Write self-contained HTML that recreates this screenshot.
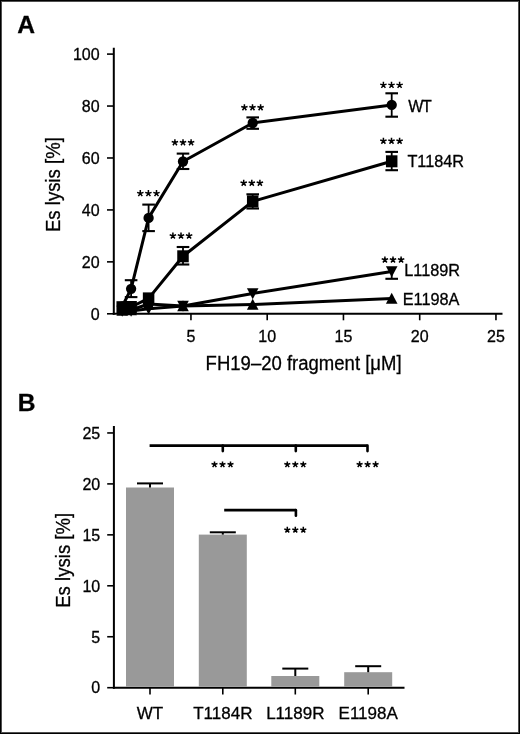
<!DOCTYPE html>
<html><head><meta charset="utf-8"><style>
html,body{margin:0;padding:0;background:#fff;}
.wrap{position:relative;width:520px;height:734px;box-sizing:border-box;border:1px solid #000;box-shadow:inset 0 0 0 1px #505050;overflow:hidden;}
svg{position:absolute;left:-1px;top:-1px;will-change:transform;}
text{font-family:"Liberation Sans", sans-serif;fill:#000;stroke:#000;stroke-width:0.3px;}
.t16{font-size:16px;}
.t16b{font-size:17px;}
.tl{font-size:16.3px;}
.t20{font-size:20px;}
.tb{font-size:24.6px;font-weight:bold;}
.st{font-size:15px;}
</style></head><body><div class="wrap">
<svg width="520" height="734" viewBox="0 0 520 734">
<line x1="113.8" y1="47.8" x2="113.8" y2="314.8" stroke="#000" stroke-width="2"/>
<line x1="112.8" y1="313.8" x2="502.5" y2="313.8" stroke="#000" stroke-width="2"/>
<line x1="107" y1="313.80" x2="113.8" y2="313.80" stroke="#000" stroke-width="1.6"/>
<text x="99.6" y="319.55" text-anchor="end" class="t16">0</text>
<line x1="107" y1="261.86" x2="113.8" y2="261.86" stroke="#000" stroke-width="1.6"/>
<text x="99.6" y="267.61" text-anchor="end" class="t16">20</text>
<line x1="107" y1="209.92" x2="113.8" y2="209.92" stroke="#000" stroke-width="1.6"/>
<text x="99.6" y="215.67" text-anchor="end" class="t16">40</text>
<line x1="107" y1="157.98" x2="113.8" y2="157.98" stroke="#000" stroke-width="1.6"/>
<text x="99.6" y="163.73" text-anchor="end" class="t16">60</text>
<line x1="107" y1="106.04" x2="113.8" y2="106.04" stroke="#000" stroke-width="1.6"/>
<text x="99.6" y="111.79" text-anchor="end" class="t16">80</text>
<line x1="107" y1="54.10" x2="113.8" y2="54.10" stroke="#000" stroke-width="1.6"/>
<text x="99.6" y="59.85" text-anchor="end" class="t16">100</text>
<line x1="190.95" y1="313.8" x2="190.95" y2="320.3" stroke="#000" stroke-width="1.6"/>
<text x="190.95" y="341.9" text-anchor="middle" class="t16">5</text>
<line x1="267.20" y1="313.8" x2="267.20" y2="320.3" stroke="#000" stroke-width="1.6"/>
<text x="267.20" y="341.9" text-anchor="middle" class="t16">10</text>
<line x1="343.45" y1="313.8" x2="343.45" y2="320.3" stroke="#000" stroke-width="1.6"/>
<text x="343.45" y="341.9" text-anchor="middle" class="t16">15</text>
<line x1="419.70" y1="313.8" x2="419.70" y2="320.3" stroke="#000" stroke-width="1.6"/>
<text x="419.70" y="341.9" text-anchor="middle" class="t16">20</text>
<line x1="495.95" y1="313.8" x2="495.95" y2="320.3" stroke="#000" stroke-width="1.6"/>
<text x="495.95" y="341.9" text-anchor="middle" class="t16">25</text>
<polyline points="122.2,310.5 131.1,310.0 148.6,304.0 183.0,306.0 252.7,304.5 391.7,298.5" fill="none" stroke="#000" stroke-width="3" stroke-linejoin="round"/>
<polyline points="122.2,311.0 131.1,311.0 148.6,308.8 183.0,306.0 252.7,293.5 391.7,271.5" fill="none" stroke="#000" stroke-width="3" stroke-linejoin="round"/>
<polyline points="122.2,307.2 131.1,307.0 148.6,298.4 183.0,256.3 252.7,201.4 391.7,161.3" fill="none" stroke="#000" stroke-width="3" stroke-linejoin="round"/>
<polyline points="122.2,306.5 131.1,288.8 148.6,217.9 183.0,161.5 252.7,123.0 391.7,104.9" fill="none" stroke="#000" stroke-width="3" stroke-linejoin="round"/>
<line x1="131.1" y1="280.2" x2="131.1" y2="297.1" stroke="#000" stroke-width="1.8"/>
<line x1="124.8" y1="280.2" x2="137.4" y2="280.2" stroke="#000" stroke-width="2.1"/>
<line x1="124.8" y1="297.1" x2="137.4" y2="297.1" stroke="#000" stroke-width="2.1"/>
<line x1="148.6" y1="204.6" x2="148.6" y2="231.1" stroke="#000" stroke-width="1.8"/>
<line x1="142.3" y1="204.6" x2="154.9" y2="204.6" stroke="#000" stroke-width="2.1"/>
<line x1="142.3" y1="231.1" x2="154.9" y2="231.1" stroke="#000" stroke-width="2.1"/>
<line x1="183.0" y1="153.6" x2="183.0" y2="169.0" stroke="#000" stroke-width="1.8"/>
<line x1="176.7" y1="153.6" x2="189.3" y2="153.6" stroke="#000" stroke-width="2.1"/>
<line x1="176.7" y1="169.0" x2="189.3" y2="169.0" stroke="#000" stroke-width="2.1"/>
<line x1="252.7" y1="117.4" x2="252.7" y2="128.8" stroke="#000" stroke-width="1.8"/>
<line x1="246.4" y1="117.4" x2="259.0" y2="117.4" stroke="#000" stroke-width="2.1"/>
<line x1="246.4" y1="128.8" x2="259.0" y2="128.8" stroke="#000" stroke-width="2.1"/>
<line x1="391.7" y1="93.3" x2="391.7" y2="116.7" stroke="#000" stroke-width="1.8"/>
<line x1="385.4" y1="93.3" x2="398.0" y2="93.3" stroke="#000" stroke-width="2.1"/>
<line x1="385.4" y1="116.7" x2="398.0" y2="116.7" stroke="#000" stroke-width="2.1"/>
<line x1="183.0" y1="247.0" x2="183.0" y2="264.5" stroke="#000" stroke-width="1.8"/>
<line x1="176.7" y1="247.0" x2="189.3" y2="247.0" stroke="#000" stroke-width="2.1"/>
<line x1="176.7" y1="264.5" x2="189.3" y2="264.5" stroke="#000" stroke-width="2.1"/>
<line x1="252.7" y1="194.3" x2="252.7" y2="208.5" stroke="#000" stroke-width="1.8"/>
<line x1="246.4" y1="194.3" x2="259.0" y2="194.3" stroke="#000" stroke-width="2.1"/>
<line x1="246.4" y1="208.5" x2="259.0" y2="208.5" stroke="#000" stroke-width="2.1"/>
<line x1="391.7" y1="151.9" x2="391.7" y2="170.2" stroke="#000" stroke-width="1.8"/>
<line x1="385.4" y1="151.9" x2="398.0" y2="151.9" stroke="#000" stroke-width="2.1"/>
<line x1="385.4" y1="170.2" x2="398.0" y2="170.2" stroke="#000" stroke-width="2.1"/>
<line x1="391.7" y1="270.8" x2="391.7" y2="278.8" stroke="#000" stroke-width="1.8"/>
<line x1="385.4" y1="278.8" x2="398.0" y2="278.8" stroke="#000" stroke-width="2.1"/>
<polygon points="116.4,315.7 128.0,315.7 122.2,304.7"/>
<polygon points="125.3,315.2 136.9,315.2 131.1,304.2"/>
<polygon points="142.8,309.2 154.4,309.2 148.6,298.2"/>
<polygon points="177.2,311.2 188.8,311.2 183.0,300.2"/>
<polygon points="246.9,309.7 258.5,309.7 252.7,298.7"/>
<polygon points="385.9,303.7 397.5,303.7 391.7,292.7"/>
<polygon points="116.4,305.8 128.0,305.8 122.2,316.8"/>
<polygon points="125.3,305.8 136.9,305.8 131.1,316.8"/>
<polygon points="142.8,303.6 154.4,303.6 148.6,314.6"/>
<polygon points="177.2,300.8 188.8,300.8 183.0,311.8"/>
<polygon points="246.9,288.3 258.5,288.3 252.7,299.3"/>
<polygon points="385.9,266.3 397.5,266.3 391.7,277.3"/>
<rect x="116.45" y="301.20" width="11.5" height="12"/>
<rect x="125.35" y="301.00" width="11.5" height="12"/>
<rect x="142.85" y="292.40" width="11.5" height="12"/>
<rect x="177.25" y="250.30" width="11.5" height="12"/>
<rect x="246.95" y="195.40" width="11.5" height="12"/>
<rect x="385.95" y="155.30" width="11.5" height="12"/>
<circle cx="122.2" cy="306.5" r="5.15"/>
<circle cx="131.1" cy="288.8" r="5.15"/>
<circle cx="148.6" cy="217.9" r="5.15"/>
<circle cx="183.0" cy="161.5" r="5.15"/>
<circle cx="252.7" cy="123.0" r="5.15"/>
<circle cx="391.7" cy="104.9" r="5.15"/>
<path d="M383.40,85.15L383.40,81.80M383.40,85.15L386.59,84.11M383.40,85.15L385.37,87.86M383.40,85.15L381.43,87.86M383.40,85.15L380.21,84.11M391.50,85.15L391.50,81.80M391.50,85.15L394.69,84.11M391.50,85.15L393.47,87.86M391.50,85.15L389.53,87.86M391.50,85.15L388.31,84.11M399.60,85.15L399.60,81.80M399.60,85.15L402.79,84.11M399.60,85.15L401.57,87.86M399.60,85.15L397.63,87.86M399.60,85.15L396.41,84.11" stroke="#000" stroke-width="1.5" fill="none"/>
<path d="M383.40,141.05L383.40,137.70M383.40,141.05L386.59,140.01M383.40,141.05L385.37,143.76M383.40,141.05L381.43,143.76M383.40,141.05L380.21,140.01M391.50,141.05L391.50,137.70M391.50,141.05L394.69,140.01M391.50,141.05L393.47,143.76M391.50,141.05L389.53,143.76M391.50,141.05L388.31,140.01M399.60,141.05L399.60,137.70M399.60,141.05L402.79,140.01M399.60,141.05L401.57,143.76M399.60,141.05L397.63,143.76M399.60,141.05L396.41,140.01" stroke="#000" stroke-width="1.5" fill="none"/>
<path d="M384.90,259.75L384.90,256.40M384.90,259.75L388.09,258.71M384.90,259.75L386.87,262.46M384.90,259.75L382.93,262.46M384.90,259.75L381.71,258.71M393.00,259.75L393.00,256.40M393.00,259.75L396.19,258.71M393.00,259.75L394.97,262.46M393.00,259.75L391.03,262.46M393.00,259.75L389.81,258.71M401.10,259.75L401.10,256.40M401.10,259.75L404.29,258.71M401.10,259.75L403.07,262.46M401.10,259.75L399.13,262.46M401.10,259.75L397.91,258.71" stroke="#000" stroke-width="1.5" fill="none"/>
<path d="M244.40,107.55L244.40,104.20M244.40,107.55L247.59,106.51M244.40,107.55L246.37,110.26M244.40,107.55L242.43,110.26M244.40,107.55L241.21,106.51M252.50,107.55L252.50,104.20M252.50,107.55L255.69,106.51M252.50,107.55L254.47,110.26M252.50,107.55L250.53,110.26M252.50,107.55L249.31,106.51M260.60,107.55L260.60,104.20M260.60,107.55L263.79,106.51M260.60,107.55L262.57,110.26M260.60,107.55L258.63,110.26M260.60,107.55L257.41,106.51" stroke="#000" stroke-width="1.5" fill="none"/>
<path d="M243.70,183.05L243.70,179.70M243.70,183.05L246.89,182.01M243.70,183.05L245.67,185.76M243.70,183.05L241.73,185.76M243.70,183.05L240.51,182.01M251.80,183.05L251.80,179.70M251.80,183.05L254.99,182.01M251.80,183.05L253.77,185.76M251.80,183.05L249.83,185.76M251.80,183.05L248.61,182.01M259.90,183.05L259.90,179.70M259.90,183.05L263.09,182.01M259.90,183.05L261.87,185.76M259.90,183.05L257.93,185.76M259.90,183.05L256.71,182.01" stroke="#000" stroke-width="1.5" fill="none"/>
<path d="M174.90,142.55L174.90,139.20M174.90,142.55L178.09,141.51M174.90,142.55L176.87,145.26M174.90,142.55L172.93,145.26M174.90,142.55L171.71,141.51M183.00,142.55L183.00,139.20M183.00,142.55L186.19,141.51M183.00,142.55L184.97,145.26M183.00,142.55L181.03,145.26M183.00,142.55L179.81,141.51M191.10,142.55L191.10,139.20M191.10,142.55L194.29,141.51M191.10,142.55L193.07,145.26M191.10,142.55L189.13,145.26M191.10,142.55L187.91,141.51" stroke="#000" stroke-width="1.5" fill="none"/>
<path d="M140.30,193.45L140.30,190.10M140.30,193.45L143.49,192.41M140.30,193.45L142.27,196.16M140.30,193.45L138.33,196.16M140.30,193.45L137.11,192.41M148.40,193.45L148.40,190.10M148.40,193.45L151.59,192.41M148.40,193.45L150.37,196.16M148.40,193.45L146.43,196.16M148.40,193.45L145.21,192.41M156.50,193.45L156.50,190.10M156.50,193.45L159.69,192.41M156.50,193.45L158.47,196.16M156.50,193.45L154.53,196.16M156.50,193.45L153.31,192.41" stroke="#000" stroke-width="1.5" fill="none"/>
<path d="M172.90,235.85L172.90,232.50M172.90,235.85L176.09,234.81M172.90,235.85L174.87,238.56M172.90,235.85L170.93,238.56M172.90,235.85L169.71,234.81M181.00,235.85L181.00,232.50M181.00,235.85L184.19,234.81M181.00,235.85L182.97,238.56M181.00,235.85L179.03,238.56M181.00,235.85L177.81,234.81M189.10,235.85L189.10,232.50M189.10,235.85L192.29,234.81M189.10,235.85L191.07,238.56M189.10,235.85L187.13,238.56M189.10,235.85L185.91,234.81" stroke="#000" stroke-width="1.5" fill="none"/>
<text x="408.2" y="111.6" class="t16" textLength="23.6">WT</text>
<text x="407.4" y="166.5" class="tl">T1184R</text>
<text x="404.3" y="276.2" class="tl">L1189R</text>
<text x="402.7" y="304.9" class="tl">E1198A</text>
<text x="205.6" y="369.9" class="t20" textLength="196" lengthAdjust="spacingAndGlyphs">FH19–20 fragment [μM]</text>
<text transform="translate(60.3,232.1) rotate(-90)" x="0" y="0" class="t20" textLength="95" lengthAdjust="spacingAndGlyphs">Es lysis [%]</text>
<text x="17.3" y="32.8" class="tb">A</text>
<line x1="113.9" y1="426" x2="113.9" y2="688.7" stroke="#000" stroke-width="2"/>
<line x1="112.9" y1="687.7" x2="404.5" y2="687.7" stroke="#000" stroke-width="2"/>
<line x1="107.2" y1="687.70" x2="113.9" y2="687.70" stroke="#000" stroke-width="1.6"/>
<text x="100.2" y="693.45" text-anchor="end" class="t16">0</text>
<line x1="107.2" y1="636.75" x2="113.9" y2="636.75" stroke="#000" stroke-width="1.6"/>
<text x="100.2" y="642.50" text-anchor="end" class="t16">5</text>
<line x1="107.2" y1="585.80" x2="113.9" y2="585.80" stroke="#000" stroke-width="1.6"/>
<text x="100.2" y="591.55" text-anchor="end" class="t16">10</text>
<line x1="107.2" y1="534.85" x2="113.9" y2="534.85" stroke="#000" stroke-width="1.6"/>
<text x="100.2" y="540.60" text-anchor="end" class="t16">15</text>
<line x1="107.2" y1="483.90" x2="113.9" y2="483.90" stroke="#000" stroke-width="1.6"/>
<text x="100.2" y="489.65" text-anchor="end" class="t16">20</text>
<line x1="107.2" y1="432.95" x2="113.9" y2="432.95" stroke="#000" stroke-width="1.6"/>
<text x="100.2" y="438.70" text-anchor="end" class="t16">25</text>
<rect x="126.0" y="487.5" width="48" height="199.2" fill="#999999"/>
<line x1="150.0" y1="483.4" x2="150.0" y2="487.5" stroke="#000" stroke-width="2"/>
<line x1="137.0" y1="483.4" x2="163.0" y2="483.4" stroke="#000" stroke-width="2"/>
<line x1="150.0" y1="687.7" x2="150.0" y2="694.5" stroke="#000" stroke-width="1.6"/>
<text x="150.0" y="719.3" text-anchor="middle" class="t16b">WT</text>
<rect x="198.8" y="534.6" width="48" height="152.1" fill="#999999"/>
<line x1="222.8" y1="532.3" x2="222.8" y2="534.6" stroke="#000" stroke-width="2"/>
<line x1="209.8" y1="532.3" x2="235.8" y2="532.3" stroke="#000" stroke-width="2"/>
<line x1="222.8" y1="687.7" x2="222.8" y2="694.5" stroke="#000" stroke-width="1.6"/>
<text x="222.8" y="719.3" text-anchor="middle" class="t16b">T1184R</text>
<rect x="271.3" y="676.0" width="48" height="10.7" fill="#999999"/>
<line x1="295.3" y1="668.6" x2="295.3" y2="676.0" stroke="#000" stroke-width="2"/>
<line x1="282.3" y1="668.6" x2="308.3" y2="668.6" stroke="#000" stroke-width="2"/>
<line x1="295.3" y1="687.7" x2="295.3" y2="694.5" stroke="#000" stroke-width="1.6"/>
<text x="295.3" y="719.3" text-anchor="middle" class="t16b">L1189R</text>
<rect x="344.2" y="672.2" width="48" height="14.5" fill="#999999"/>
<line x1="368.2" y1="666.2" x2="368.2" y2="672.2" stroke="#000" stroke-width="2"/>
<line x1="355.2" y1="666.2" x2="381.2" y2="666.2" stroke="#000" stroke-width="2"/>
<line x1="368.2" y1="687.7" x2="368.2" y2="694.5" stroke="#000" stroke-width="1.6"/>
<text x="368.2" y="719.3" text-anchor="middle" class="t16b">E1198A</text>
<line x1="149.6" y1="445.65" x2="367.5" y2="445.65" stroke="#000" stroke-width="2.7"/>
<line x1="222.8" y1="445.65" x2="222.8" y2="451.1" stroke="#000" stroke-width="2.6" stroke-linecap="round"/>
<line x1="295.8" y1="445.65" x2="295.8" y2="451.1" stroke="#000" stroke-width="2.6" stroke-linecap="round"/>
<line x1="367.5" y1="445.65" x2="367.5" y2="451.1" stroke="#000" stroke-width="2.6" stroke-linecap="round"/>
<line x1="224.2" y1="510.15" x2="295.9" y2="510.15" stroke="#000" stroke-width="2.8"/>
<line x1="295.9" y1="510.15" x2="295.9" y2="515.8" stroke="#000" stroke-width="2.6" stroke-linecap="round"/>
<path d="M214.50,464.55L214.50,461.40M214.50,464.55L217.50,463.58M214.50,464.55L216.35,467.10M214.50,464.55L212.65,467.10M214.50,464.55L211.50,463.58M222.50,464.55L222.50,461.40M222.50,464.55L225.50,463.58M222.50,464.55L224.35,467.10M222.50,464.55L220.65,467.10M222.50,464.55L219.50,463.58M230.50,464.55L230.50,461.40M230.50,464.55L233.50,463.58M230.50,464.55L232.35,467.10M230.50,464.55L228.65,467.10M230.50,464.55L227.50,463.58" stroke="#000" stroke-width="1.5" fill="none"/>
<path d="M287.30,464.55L287.30,461.40M287.30,464.55L290.30,463.58M287.30,464.55L289.15,467.10M287.30,464.55L285.45,467.10M287.30,464.55L284.30,463.58M295.30,464.55L295.30,461.40M295.30,464.55L298.30,463.58M295.30,464.55L297.15,467.10M295.30,464.55L293.45,467.10M295.30,464.55L292.30,463.58M303.30,464.55L303.30,461.40M303.30,464.55L306.30,463.58M303.30,464.55L305.15,467.10M303.30,464.55L301.45,467.10M303.30,464.55L300.30,463.58" stroke="#000" stroke-width="1.5" fill="none"/>
<path d="M359.60,464.45L359.60,461.30M359.60,464.45L362.60,463.48M359.60,464.45L361.45,467.00M359.60,464.45L357.75,467.00M359.60,464.45L356.60,463.48M367.60,464.45L367.60,461.30M367.60,464.45L370.60,463.48M367.60,464.45L369.45,467.00M367.60,464.45L365.75,467.00M367.60,464.45L364.60,463.48M375.60,464.45L375.60,461.30M375.60,464.45L378.60,463.48M375.60,464.45L377.45,467.00M375.60,464.45L373.75,467.00M375.60,464.45L372.60,463.48" stroke="#000" stroke-width="1.5" fill="none"/>
<path d="M287.30,529.95L287.30,526.80M287.30,529.95L290.30,528.98M287.30,529.95L289.15,532.50M287.30,529.95L285.45,532.50M287.30,529.95L284.30,528.98M295.30,529.95L295.30,526.80M295.30,529.95L298.30,528.98M295.30,529.95L297.15,532.50M295.30,529.95L293.45,532.50M295.30,529.95L292.30,528.98M303.30,529.95L303.30,526.80M303.30,529.95L306.30,528.98M303.30,529.95L305.15,532.50M303.30,529.95L301.45,532.50M303.30,529.95L300.30,528.98" stroke="#000" stroke-width="1.5" fill="none"/>
<text transform="translate(69.6,607.8) rotate(-90)" x="0" y="0" class="t20" textLength="95" lengthAdjust="spacingAndGlyphs">Es lysis [%]</text>
<text x="17.8" y="411.2" class="tb">B</text>
</svg></div></body></html>
